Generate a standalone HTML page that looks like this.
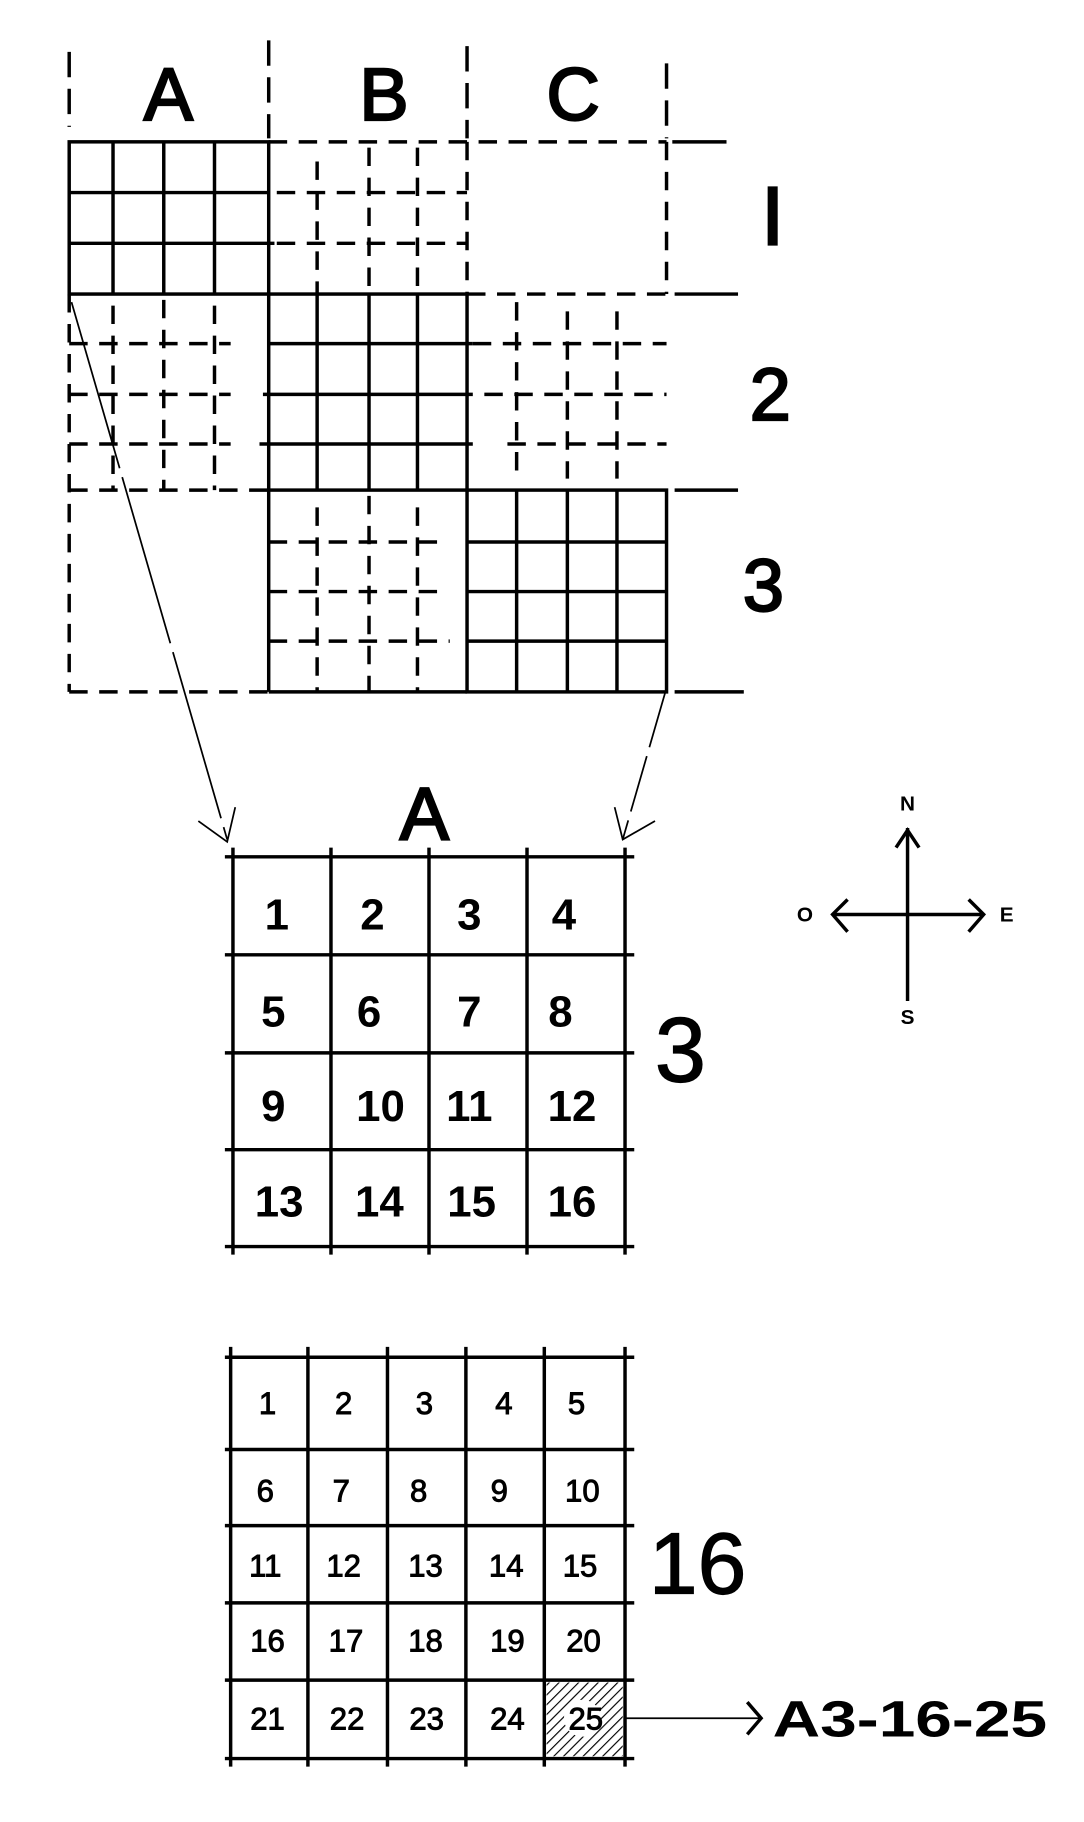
<!DOCTYPE html>
<html><head><meta charset="utf-8"><style>
html,body{margin:0;padding:0;background:#fff;}
svg{display:block;}
text{font-family:"Liberation Sans",sans-serif;fill:#000;text-anchor:middle;}
</style></head><body>
<svg width="1084" height="1822" viewBox="0 0 940 1580" xmlns="http://www.w3.org/2000/svg">
<defs>
<pattern id="h" width="6" height="6" patternUnits="userSpaceOnUse" patternTransform="rotate(45)">
<line x1="0" y1="0" x2="0" y2="6" stroke="#000" stroke-width="2"/></pattern>
</defs>
<g stroke="#000" fill="none" stroke-width="3">
<g stroke-dasharray="22,10">
<line x1="60" y1="45" x2="60" y2="110"/><line x1="233" y1="35" x2="233" y2="120"/>
<line x1="405" y1="40" x2="405" y2="120"/><line x1="578" y1="55" x2="578" y2="120"/>
</g>
<rect x="60" y="123" width="173" height="132"/>
<line x1="98" y1="123" x2="98" y2="255"/><line x1="142" y1="123" x2="142" y2="255"/><line x1="186" y1="123" x2="186" y2="255"/>
<line x1="60" y1="167" x2="233" y2="167"/><line x1="60" y1="211" x2="238" y2="211"/>
<rect x="233" y="255" width="172" height="170"/>
<line x1="275" y1="255" x2="275" y2="425"/><line x1="320" y1="255" x2="320" y2="425"/><line x1="362" y1="255" x2="362" y2="425"/>
<line x1="233" y1="298" x2="410" y2="298"/><line x1="228" y1="342" x2="410" y2="342"/><line x1="225" y1="385" x2="410" y2="385"/>
<rect x="405" y="425" width="173" height="175"/>
<line x1="448" y1="425" x2="448" y2="600"/><line x1="492" y1="425" x2="492" y2="600"/><line x1="535" y1="425" x2="535" y2="600"/>
<line x1="405" y1="470" x2="578" y2="470"/><line x1="405" y1="513" x2="578" y2="513"/><line x1="405" y1="556" x2="578" y2="556"/>
<line x1="233" y1="425" x2="233" y2="600"/><line x1="233" y1="600" x2="405" y2="600"/>
<g stroke-dasharray="16,10">
<line x1="233" y1="123" x2="578" y2="123"/><line x1="578" y1="123" x2="578" y2="255"/>
<line x1="405" y1="123" x2="405" y2="255"/><line x1="405" y1="255" x2="578" y2="255"/>
<line x1="275" y1="140" x2="275" y2="255"/><line x1="320" y1="128" x2="320" y2="255"/><line x1="362" y1="128" x2="362" y2="255"/>
<line x1="240" y1="167" x2="405" y2="167"/><line x1="240" y1="211" x2="405" y2="211"/>
<line x1="60" y1="255" x2="60" y2="600"/><line x1="60" y1="600" x2="233" y2="600"/>
<line x1="60" y1="425" x2="233" y2="425"/>
<line x1="98" y1="265" x2="98" y2="425"/><line x1="142" y1="260" x2="142" y2="425"/><line x1="186" y1="265" x2="186" y2="425"/>
<line x1="60" y1="298" x2="200" y2="298"/><line x1="60" y1="342" x2="200" y2="342"/><line x1="60" y1="385" x2="200" y2="385"/>
<line x1="448" y1="262" x2="448" y2="415"/><line x1="492" y1="270" x2="492" y2="415"/><line x1="535" y1="270" x2="535" y2="415"/>
<line x1="410" y1="298" x2="578" y2="298"/><line x1="420" y1="342" x2="578" y2="342"/><line x1="440" y1="385" x2="578" y2="385"/>
<line x1="275" y1="440" x2="275" y2="600"/><line x1="320" y1="430" x2="320" y2="600"/><line x1="362" y1="440" x2="362" y2="600"/>
<line x1="233" y1="470" x2="380" y2="470"/><line x1="233" y1="513" x2="380" y2="513"/><line x1="233" y1="556" x2="390" y2="556"/>
</g>
<line x1="583" y1="123" x2="630" y2="123"/><line x1="585" y1="255" x2="640" y2="255"/>
<line x1="585" y1="425" x2="640" y2="425"/><line x1="585" y1="600" x2="645" y2="600"/>
<g stroke-width="1.5">
<line x1="62" y1="262" x2="197" y2="728" stroke-dasharray="150,8"/>
<line x1="577" y1="600" x2="540" y2="728" stroke-dasharray="50,8"/>
<polyline points="172,712 197,730 204,700"/>
<polyline points="533,700 540,728 568,712"/>
</g>
<g stroke-width="3">
<line x1="195" y1="743" x2="550" y2="743"/><line x1="195" y1="828" x2="550" y2="828"/>
<line x1="195" y1="913" x2="550" y2="913"/><line x1="195" y1="997" x2="550" y2="997"/>
<line x1="195" y1="1081" x2="550" y2="1081"/>
<line x1="202" y1="735" x2="202" y2="1088"/><line x1="287" y1="735" x2="287" y2="1088"/>
<line x1="372" y1="735" x2="372" y2="1088"/><line x1="457" y1="735" x2="457" y2="1088"/>
<line x1="542" y1="735" x2="542" y2="1088"/>
</g>
<line x1="787" y1="718" x2="787" y2="868"/><line x1="722" y1="793" x2="853" y2="793"/>
<polyline points="777,735 787,720 797,735"/>
<polyline points="735,780 722,793 735,808"/><polyline points="840,780 853,793 840,808"/>
<g stroke-width="3">
<line x1="195" y1="1177" x2="550" y2="1177"/><line x1="195" y1="1257" x2="550" y2="1257"/>
<line x1="195" y1="1323" x2="550" y2="1323"/><line x1="195" y1="1390" x2="550" y2="1390"/>
<line x1="195" y1="1457" x2="550" y2="1457"/><line x1="195" y1="1525" x2="550" y2="1525"/>
<line x1="200" y1="1168" x2="200" y2="1532"/><line x1="267" y1="1168" x2="267" y2="1532"/>
<line x1="336" y1="1168" x2="336" y2="1532"/><line x1="404" y1="1168" x2="404" y2="1532"/>
<line x1="472" y1="1168" x2="472" y2="1532"/><line x1="542" y1="1168" x2="542" y2="1532"/>
</g>
<rect x="474" y="1459" width="66" height="64" fill="url(#h)" stroke="none"/>
<circle cx="505" cy="1490" r="16" fill="#fff" stroke="none"/>
<line x1="542" y1="1490" x2="660" y2="1490" stroke-width="1.5"/>
<polyline points="648,1476 660,1490 648,1504"/>
</g>
<g font-size="64" stroke="#000" stroke-width="2">
<text x="146" y="104">A</text><text x="333" y="104">B</text><text x="497" y="104">C</text>
<text x="670" y="212" font-size="72">I</text><text x="668" y="364">2</text><text x="662" y="530">3</text>
<text x="368" y="728">A</text>
<text x="590" y="938" font-size="80" stroke-width="1">3</text>
<text x="605" y="1382" font-size="76" stroke-width="1">16</text>
</g>
<g font-size="38" font-weight="bold">
<text x="240" y="806">1</text><text x="323" y="806">2</text><text x="407" y="806">3</text><text x="489" y="806">4</text>
<text x="237" y="890">5</text><text x="320" y="890">6</text><text x="407" y="890">7</text><text x="486" y="890">8</text>
<text x="237" y="972">9</text><text x="330" y="972">10</text><text x="407" y="972">11</text><text x="496" y="972">12</text>
<text x="242" y="1055">13</text><text x="329" y="1055">14</text><text x="409" y="1055">15</text><text x="496" y="1055">16</text>
</g>
<g font-size="27" stroke="#000" stroke-width="0.8">
<text x="232" y="1226">1</text><text x="298" y="1226">2</text><text x="368" y="1226">3</text><text x="437" y="1226">4</text><text x="500" y="1226">5</text>
<text x="230" y="1302">6</text><text x="296" y="1302">7</text><text x="363" y="1302">8</text><text x="433" y="1302">9</text><text x="505" y="1302">10</text>
<text x="230" y="1367">11</text><text x="298" y="1367">12</text><text x="369" y="1367">13</text><text x="439" y="1367">14</text><text x="503" y="1367">15</text>
<text x="232" y="1432">16</text><text x="300" y="1432">17</text><text x="369" y="1432">18</text><text x="440" y="1432">19</text><text x="506" y="1432">20</text>
<text x="232" y="1500">21</text><text x="301" y="1500">22</text><text x="370" y="1500">23</text><text x="440" y="1500">24</text><text x="508" y="1500">25</text>
</g>
<g font-size="18" font-weight="bold">
<text x="787" y="703">N</text><text x="787" y="888">S</text><text x="698" y="799">O</text><text x="873" y="799">E</text>
</g>
<text x="670" y="1506" font-size="44" font-weight="bold" style="text-anchor:start" textLength="238" lengthAdjust="spacingAndGlyphs">A3-16-25</text>
</svg>
</body></html>
